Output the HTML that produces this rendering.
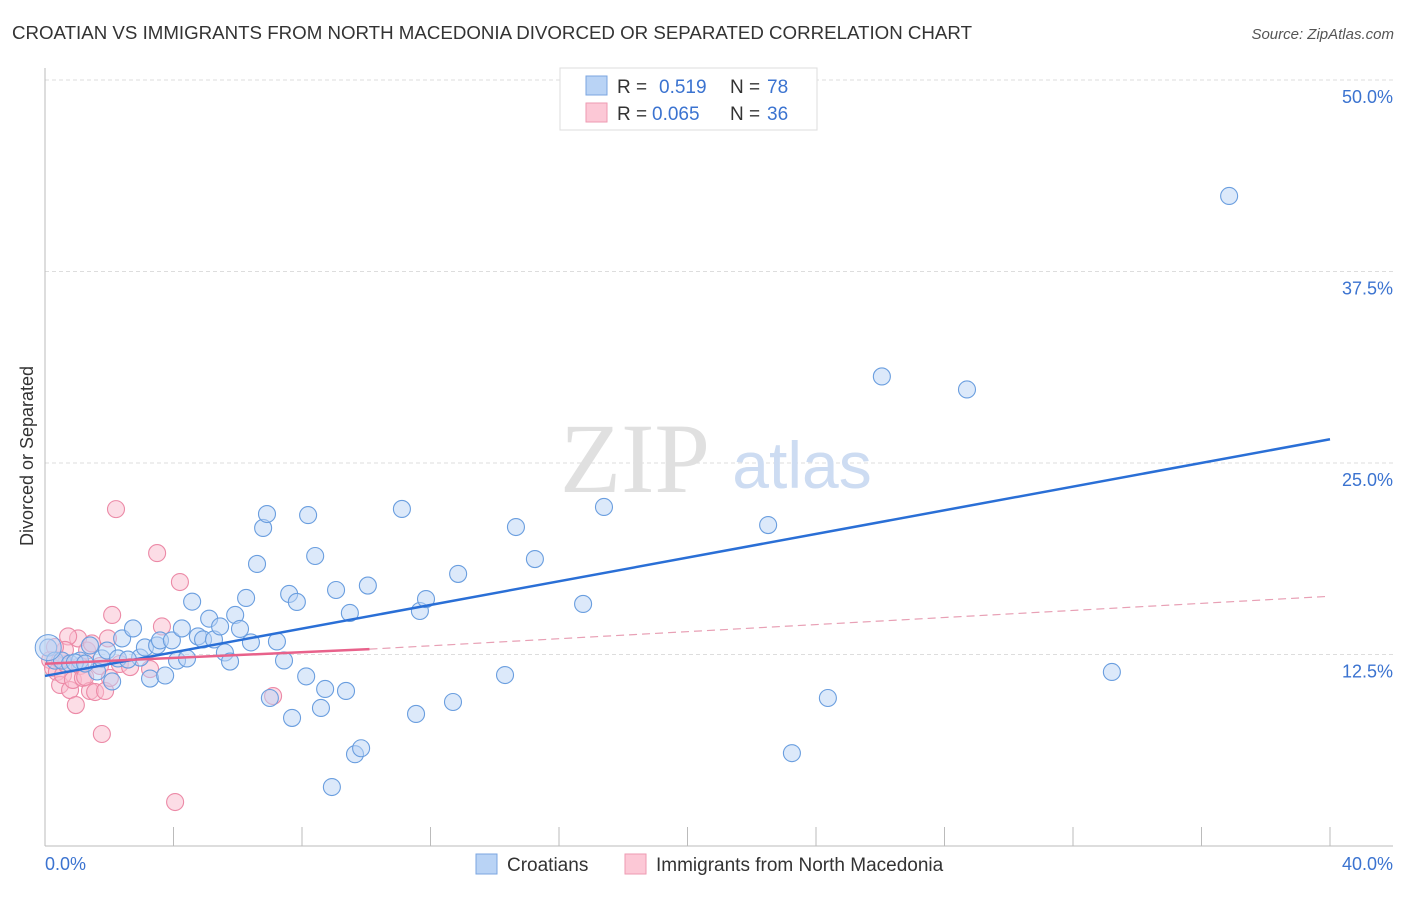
<!DOCTYPE html>
<html><head><meta charset="utf-8"><style>
body{margin:0;background:#fff;font-family:"Liberation Sans",sans-serif;}
svg text{font-family:"Liberation Sans",sans-serif;}
</style></head><body>
<svg width="1406" height="892" xmlns="http://www.w3.org/2000/svg">
<text x="12" y="39" font-size="18" fill="#333" textLength="960" lengthAdjust="spacingAndGlyphs">CROATIAN VS IMMIGRANTS FROM NORTH MACEDONIA DIVORCED OR SEPARATED CORRELATION CHART</text>
<text x="1394" y="39" font-size="15" fill="#555" text-anchor="end" font-style="italic">Source: ZipAtlas.com</text>
<text transform="translate(33,456) rotate(-90)" font-size="18" fill="#333" text-anchor="middle">Divorced or Separated</text>
<g id="grid"></g>
<text x="635" y="492" font-size="100" fill="#e0e0e0" text-anchor="middle" style="font-family:'Liberation Serif',serif">ZIP</text>
<text x="802" y="488" font-size="66" fill="#cddcf2" text-anchor="middle">atlas</text>
<g id="axes"></g>
<g id="pink"></g>
<g id="blue"></g>
<g id="lines"></g>
<g>
<rect x="560" y="68" width="257" height="62" fill="#fff" stroke="#ddd"/>
<rect x="586" y="76" width="21" height="19" fill="#b9d3f5" stroke="#7ba6e0"/>
<rect x="586" y="103" width="21" height="19" fill="#fcc8d6" stroke="#ee9ab2"/>
<text x="617" y="93" font-size="19" fill="#333">R = </text><text x="659" y="93" font-size="19" fill="#3b73d0">0.519</text>
<text x="730" y="93" font-size="19" fill="#333">N = </text><text x="767" y="93" font-size="19" fill="#3b73d0">78</text>
<text x="617" y="120" font-size="19" fill="#333">R = </text><text x="652" y="120" font-size="19" fill="#3b73d0">0.065</text>
<text x="730" y="120" font-size="19" fill="#333">N = </text><text x="767" y="120" font-size="19" fill="#3b73d0">36</text>
</g>
<g>
<rect x="476" y="854" width="21" height="20" fill="#b9d3f5" stroke="#7ba6e0"/>
<text x="507" y="871" font-size="19" fill="#333">Croatians</text>
<rect x="625" y="854" width="21" height="20" fill="#fcc8d6" stroke="#ee9ab2"/>
<text x="656" y="871" font-size="19" fill="#333">Immigrants from North Macedonia</text>
</g>
<text x="45" y="870" font-size="18" fill="#3b73d0">0.0%</text>
<text x="1393" y="870" font-size="18" fill="#3b73d0" text-anchor="end">40.0%</text>
</svg>
<script>
const yTicks=[12.5,25,37.5,50];
const yTickLabels=["12.5%","25.0%","37.5%","50.0%"];
const xTicks=[0,4,8,12,16,20,24,28,32,36,40];
const blueX=[0.1,0.31,0.53,0.78,1.09,1.4,1.62,1.77,1.93,2.09,2.27,2.4,2.74,2.96,3.11,3.27,3.49,3.58,3.74,3.95,4.11,4.26,4.42,4.58,4.76,4.92,5.11,5.26,5.45,5.6,5.76,5.92,6.07,6.26,6.41,6.6,6.79,6.91,7.0,7.22,7.44,7.6,7.69,7.84,8.13,8.19,8.41,8.59,8.72,9.06,9.37,9.49,9.65,9.84,10.05,8.93,11.11,11.55,11.67,11.86,12.7,12.86,14.32,14.66,15.25,16.75,17.4,22.51,23.25,24.37,26.05,28.7,33.21,36.86,0.93,1.25,2.58];
const blueY=[12.95,12.1,12.1,11.91,12.1,13.09,11.39,12.24,12.76,10.74,12.24,13.55,14.2,12.3,12.96,10.93,13.09,13.42,11.13,13.42,12.1,14.2,12.24,15.95,13.68,13.48,14.84,13.48,14.33,12.63,12.04,15.08,14.17,16.19,13.29,18.41,20.76,21.67,9.66,13.35,12.11,16.45,8.36,15.93,11.07,21.6,18.93,9.01,10.25,16.71,10.12,15.21,5.99,6.38,17.0,3.85,22.0,8.62,15.34,16.12,9.4,17.76,11.16,20.82,18.73,15.8,22.13,20.95,6.06,9.66,30.65,29.8,11.36,42.43,11.98,11.91,12.17];
const pinkX=[0.16,0.25,0.37,0.47,0.56,0.65,0.78,0.87,0.96,1.03,1.09,1.18,1.31,1.4,1.56,1.71,1.87,1.96,2.09,2.21,2.33,2.65,3.27,3.49,3.64,4.2,4.05,1.77,0.72,0.47,7.1,1.46,2.02,0.62,1.25,0.31];
const pinkY=[12.14,11.62,11.36,10.51,11.16,11.88,10.18,10.84,9.2,13.55,11.75,10.97,12.76,10.12,10.05,11.75,10.12,13.55,15.08,21.99,11.88,11.68,11.55,19.12,14.33,17.23,2.87,7.31,13.68,12.14,9.79,13.22,10.97,12.8,11.03,12.99];
const blueTrend=[[0,11.1],[40,26.55]];
const pinkTrend=[[0,11.9],[10.1,12.85],[40,16.3]];
const X=v=>45+v*32.125, Y=v=>846-v*15.32;
const NS="http://www.w3.org/2000/svg";
function mk(tag,attrs,parent){const e=document.createElementNS(NS,tag);for(const k in attrs)e.setAttribute(k,attrs[k]);parent.appendChild(e);return e;}
const grid=document.getElementById('grid');
yTicks.forEach((t,i)=>{
 const l=mk('line',{x1:45,x2:1393,y1:Y(t),y2:Y(t),stroke:'#ddd','stroke-dasharray':'4,3'},grid);
 
 
 const tx=mk('text',{x:1393,y:Y(t)+23,'font-size':18,fill:'#3b73d0','text-anchor':'end'},grid);
 tx.textContent=yTickLabels[i];
 
 
});
const axes=document.getElementById('axes');
mk('line',{x1:45,x2:45,y1:68,y2:846,stroke:'#bbb'},axes);
mk('line',{x1:45,x2:1393,y1:846,y2:846,stroke:'#bbb'},axes);
xTicks.forEach(t=>{const l=mk('line',{x1:X(t),x2:X(t),y1:827,y2:846,stroke:'#bbb'},axes);
 
 });
function dots(xs,ys,g,fill,stroke,name){xs.forEach((x,i)=>{const c=mk('circle',{cx:X(x),cy:Y(ys[i]),r:8.5,fill:fill,'fill-opacity':0.5,stroke:stroke,'stroke-width':1.1},g);
 
 });}
dots(pinkX,pinkY,document.getElementById('pink'),'#f9bccd','#ec8aa7','point-macedonia');
dots(blueX,blueY,document.getElementById('blue'),'#b9d3f5','#6a9edf','point-croatians');
const big=mk('circle',{cx:X(0.1),cy:Y(12.95),r:13,fill:'#b9d3f5','fill-opacity':0.5,stroke:'#6a9edf'},document.getElementById('blue'));


const lines=document.getElementById('lines');
const bl=mk('line',{x1:X(blueTrend[0][0]),y1:Y(blueTrend[0][1]),x2:X(blueTrend[1][0]),y2:Y(blueTrend[1][1]),stroke:'#2a6fd6','stroke-width':2.5},lines);


const pl=mk('line',{x1:X(pinkTrend[0][0]),y1:Y(pinkTrend[0][1]),x2:X(pinkTrend[1][0]),y2:Y(pinkTrend[1][1]),stroke:'#e8628b','stroke-width':2.5},lines);


const pd=mk('line',{x1:X(pinkTrend[1][0]),y1:Y(pinkTrend[1][1]),x2:X(pinkTrend[2][0]),y2:Y(pinkTrend[2][1]),stroke:'#e8a0b5','stroke-width':1.2,'stroke-dasharray':'8,5'},lines);


</script>
</body></html>
